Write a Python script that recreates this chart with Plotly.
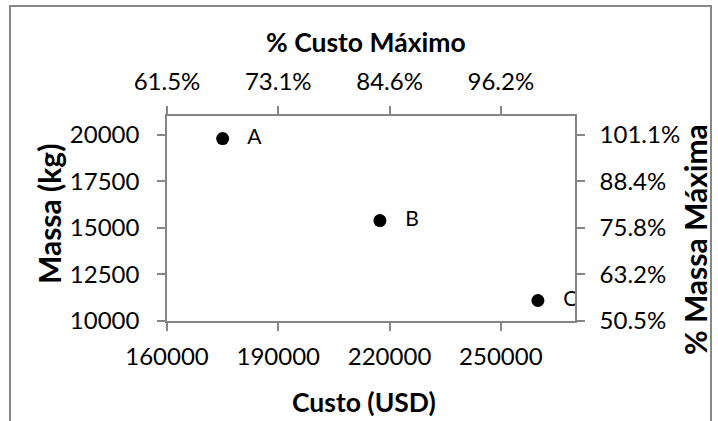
import plotly.graph_objects as go

# Design alternatives: cost (USD) vs. mass (kg)
labels = ["A", "B", "C"]
custo_usd = [175000, 217400, 260000]
massa_kg = [19790, 15390, 11100]

# Primary axis ticks
x_ticks = [160000, 190000, 220000, 250000]
y_ticks = [10000, 12500, 15000, 17500, 20000]

# Secondary axis tick labels (percent of the maximum value)
x_pct_labels = ["61.5%", "73.1%", "84.6%", "96.2%"]
y_pct_labels = ["50.5%", "63.2%", "75.8%", "88.4%", "101.1%"]

x_range = [160000, 270000]
y_range = [10000, 21000]

W, H = 718, 421
L, R, T, B = 167, 143, 116, 100
PW, PH = W - L - R, H - T - B


def px(x):
    return (x - L) / PW


def py(y):
    return (H - B - y) / PH


FONT = "Lato"
AXIS_COLOR = "#868686"
tick_font = dict(family=FONT, size=24, color="#000000")

fig = go.Figure()

fig.add_trace(go.Scatter(
    x=custo_usd, y=massa_kg,
    mode="markers+text",
    text=["\u00a0\u00a0\u00a0" + s for s in labels],
    textposition="middle right",
    textfont=dict(family=FONT, size=21, color="#000000"),
    marker=dict(size=13, color="#000000"),
    cliponaxis=True,
    hoverinfo="skip",
    showlegend=False,
))

# invisible trace that carries the top/right percentage axes
fig.add_trace(go.Scatter(
    x=custo_usd, y=massa_kg, xaxis="x2", yaxis="y2",
    mode="markers", marker=dict(size=1, opacity=0),
    hoverinfo="skip", showlegend=False,
))

axis_common = dict(
    showgrid=False, zeroline=False, showline=True, linecolor=AXIS_COLOR,
    linewidth=1.5, ticks="outside", ticklen=8, tickwidth=1.5,
    tickcolor=AXIS_COLOR, tickfont=tick_font, fixedrange=True,
)

fig.update_layout(
    width=W, height=H,
    margin=dict(l=L, r=R, t=T, b=B, pad=0),
    paper_bgcolor="#ffffff", plot_bgcolor="#ffffff",
    xaxis=dict(range=x_range, tickvals=x_ticks,
               ticktext=[str(v) for v in x_ticks], side="bottom",
               ticklabelstandoff=5, **axis_common),
    yaxis=dict(range=y_range, tickvals=y_ticks,
               ticktext=[str(v) for v in y_ticks], side="left",
               ticklabelstandoff=13, **axis_common),
    xaxis2=dict(range=x_range, tickvals=x_ticks, ticktext=x_pct_labels,
                overlaying="x", side="top", anchor="y",
                ticklabelstandoff=7, **axis_common),
    yaxis2=dict(range=y_range, tickvals=y_ticks, ticktext=y_pct_labels,
                overlaying="y", side="right", anchor="x",
                ticklabelstandoff=10, **axis_common),
    showlegend=False,
)

title_font = dict(family=FONT, size=26.5, color="#000000")
vtitle_font = dict(family=FONT, size=30, color="#000000")

fig.add_annotation(text="<b>% Custo Máximo</b>", xref="paper", yref="paper",
                   x=px(366), y=py(42), xanchor="center", yanchor="middle",
                   showarrow=False, font=title_font)
fig.add_annotation(text="<b>Custo (USD)</b>", xref="paper", yref="paper",
                   x=px(364), y=py(402), xanchor="center", yanchor="middle",
                   showarrow=False, font=title_font)
fig.add_annotation(text="<b>Massa (kg)</b>", xref="paper", yref="paper",
                   x=px(49), y=py(214), xanchor="center", yanchor="middle",
                   textangle=-90, showarrow=False, font=vtitle_font)
fig.add_annotation(text="<b>% Massa Máxima</b>", xref="paper", yref="paper",
                   x=px(695), y=py(240), xanchor="center", yanchor="middle",
                   textangle=-90, showarrow=False, font=vtitle_font)

# chart frame
fig.add_shape(type="rect", xref="paper", yref="paper",
              x0=px(10), x1=px(711), y0=py(440), y1=py(6),
              line=dict(color="#878787", width=2), layer="below")

fig.write_html("out.html")
